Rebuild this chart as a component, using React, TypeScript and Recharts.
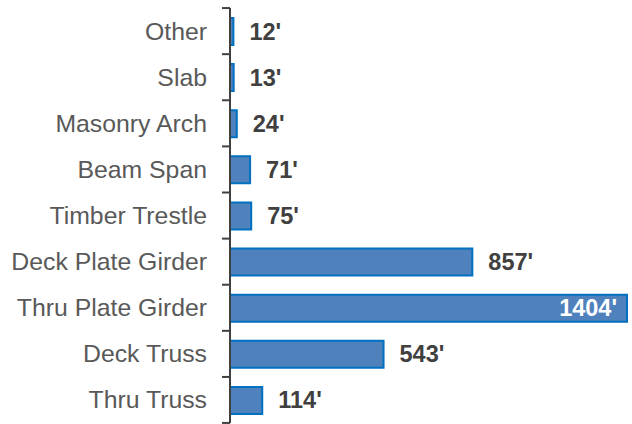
import React from 'react';
import { Bar, BarChart, LabelList, XAxis, YAxis } from 'recharts';

const categories = [
  'Other',
  'Slab',
  'Masonry Arch',
  'Beam Span',
  'Timber Trestle',
  'Deck Plate Girder',
  'Thru Plate Girder',
  'Deck Truss',
  'Thru Truss',
];
const lengths = [12, 13, 24, 71, 75, 857, 1404, 543, 114];

const data = categories.map((name, i) => ({ name, length: lengths[i] }));
const maxLength = Math.max(...lengths);

const FONT = '"Liberation Sans", Arial, sans-serif';
const HALF_BAND = 23;

const CategoryTick = (props: any) => {
  const { x, y, payload, index } = props;
  const axisX = x + 23;
  return (
    <g>
      <line x1={axisX - 8} x2={axisX} y1={y - HALF_BAND} y2={y - HALF_BAND} stroke="#404040" strokeWidth={2} />
      {index === categories.length - 1 && (
        <line x1={axisX - 8} x2={axisX} y1={y + HALF_BAND} y2={y + HALF_BAND} stroke="#404040" strokeWidth={2} />
      )}
      <text x={x} y={y} textAnchor="end" dominantBaseline="central" fill="#595959" fontSize={24.8} fontFamily={FONT}>
        {payload.value}
      </text>
    </g>
  );
};

const ValueLabel = (props: any) => {
  const { x, y, width, height, value } = props;
  const inside = value === maxLength;
  return (
    <text
      x={inside ? x + width - 10 : x + width + 16}
      y={y + height / 2}
      textAnchor={inside ? 'end' : 'start'}
      dominantBaseline="central"
      fill={inside ? '#ffffff' : '#404040'}
      fontSize={23.5}
      fontWeight="bold"
      fontFamily={FONT}
    >
      {`${value}'`}
    </text>
  );
};

const App = () => {
  return (
    <div style={{ position: 'absolute', left: 0, top: 0, background: '#fff' }}>
      <BarChart
        width={632}
        height={424}
        data={data}
        layout="vertical"
        margin={{ top: 8, right: 5, bottom: 1, left: 0 }}
      >
        <XAxis type="number" hide domain={[0, 'dataMax']} />
        <YAxis
          type="category"
          dataKey="name"
          width={230}
          axisLine={{ stroke: '#404040', strokeWidth: 2 }}
          tickLine={false}
          tickSize={8}
          tickMargin={15}
          tick={<CategoryTick />}
          interval={0}
        />
        <Bar dataKey="length" fill="#4f81bd" stroke="#0070c0" strokeWidth={2} barSize={27} isAnimationActive={false}>
          <LabelList dataKey="length" content={<ValueLabel />} />
        </Bar>
      </BarChart>
    </div>
  );
};

export default App;
